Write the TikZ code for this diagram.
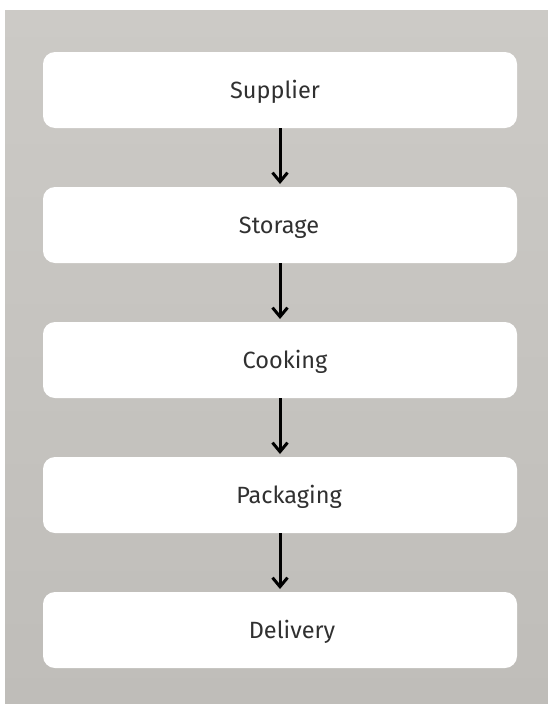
\documentclass[tikz,border=0pt]{standalone}
\usepackage{fontspec}
\setmainfont{Fira Sans}
\usetikzlibrary{arrows.meta}
\definecolor{bgtop}{HTML}{CCCAC6}
\definecolor{bgbot}{HTML}{BFBDB9}
\definecolor{txt}{HTML}{303030}
\tikzset{
  stagebox/.style={fill=white, rounded corners=12pt, draw=none},
  stagelabel/.style={font=\fontsize{23.5}{28}\selectfont, text=txt, inner sep=0pt, anchor=base},
  flow/.style={line width=3pt, -{Straight Barb[length=9pt,width=15pt,line width=3pt]}},
}
\begin{document}
\begin{tikzpicture}[x=1pt,y=-1pt]
\useasboundingbox (0,0) rectangle (548,704);
\shade[top color=bgtop, bottom color=bgbot] (5,10) rectangle (548,704);
% boxes
\path[stagebox] (43,52) rectangle (517,128);
\path[stagebox] (43,187) rectangle (517,263);
\path[stagebox] (43,322) rectangle (517,398);
\path[stagebox] (43,457) rectangle (517,533);
\path[stagebox] (43,592) rectangle (517,668);
% anchors
\coordinate (b1) at (280,128);
\coordinate (t2) at (280,184);
\coordinate (b2) at (280,263);
\coordinate (t3) at (280,319);
\coordinate (b3) at (280,398);
\coordinate (t4) at (280,454);
\coordinate (b4) at (280,533);
\coordinate (t5) at (280,589);
% labels
\node[stagelabel] (n1) at (275,98) {Supplier};
\node[stagelabel] (n2) at (279,233) {Storage};
\node[stagelabel] (n3) at (285,368) {Cooking};
\node[stagelabel] (n4) at (289,503) {Packaging};
\node[stagelabel] (n5) at (292,638) {Delivery};
% arrows
\draw[flow] (b1) -- (t2);
\draw[flow] (b2) -- (t3);
\draw[flow] (b3) -- (t4);
\draw[flow] (b4) -- (t5);
\end{tikzpicture}
\end{document}
